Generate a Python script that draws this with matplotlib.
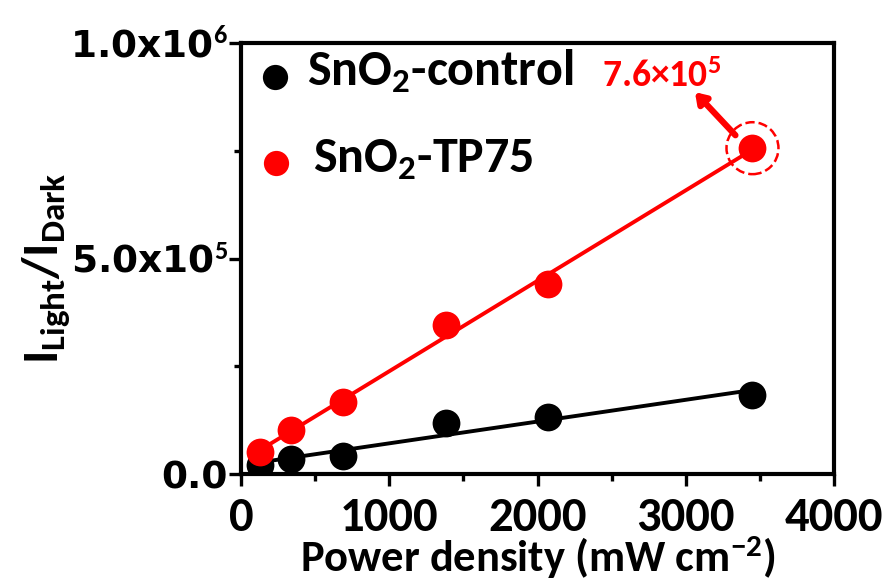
import numpy as np
import matplotlib
matplotlib.use('Agg')
import matplotlib.pyplot as plt
from matplotlib.ticker import MultipleLocator, FixedLocator

plt.rcParams['font.family'] = ['Carlito', 'DejaVu Sans']
plt.rcParams['font.weight'] = 'bold'
plt.rcParams['axes.labelweight'] = 'bold'
plt.rcParams['mathtext.fontset'] = 'custom'
plt.rcParams['mathtext.rm'] = 'Carlito:bold'
plt.rcParams['mathtext.bf'] = 'Carlito:bold'
plt.rcParams['mathtext.it'] = 'Carlito:bold'

# power density (mW cm^-2)
power = [130, 340, 690, 1380, 2070, 3450]
control = [21000, 35000, 42000, 118000, 132000, 183000]
tp75 = [51000, 102000, 167000, 346000, 441000, 756000]
peak_label = '7.6$\\times$10$^{5}$'

ytick_vals = [0, 5e5, 1e6]
ytick_labels = ['0.0', '5.0x10$^{5}$', '1.0x10$^{6}$']

fig = plt.figure(figsize=(8.92, 5.87), dpi=100)
ax = fig.add_axes([0.2702, 0.1925, 0.6648, 0.7342])

x = np.array(power)
for vals, col in [(control, 'black'), (tp75, '#ff0000')]:
    k, b = np.polyfit(x, vals, 1)
    xs = np.array([x[0], x[-1]])
    ax.plot(xs, k * xs + b, color=col, lw=2.8, zorder=2)
    ax.scatter(x, vals, s=400, color=col, zorder=3, linewidths=0)

# dashed ring around the highest point
ax.scatter([power[-1]], [tp75[-1]], s=1400, facecolors='none', edgecolors='#ff0000',
           linewidths=1.8, linestyles='--', zorder=4)
ax.annotate('', xy=(3062, 886000), xytext=(3335, 786000),
            arrowprops=dict(arrowstyle='-|>,head_width=0.4,head_length=0.6',
                            color='#ff0000', lw=4.5, shrinkA=0, shrinkB=0))
ax.text(2435, 898000, peak_label, color='#ff0000', fontsize=27,
        va='baseline', ha='left')

# legend drawn by hand
ax.scatter([229], [921000], s=330, color='black', linewidths=0, clip_on=False)
ax.text(445, 902600, 'SnO$_{2}$-control', fontsize=36, va='baseline', ha='left')
ax.scatter([236], [721600], s=330, color='#ff0000', linewidths=0, clip_on=False)
ax.text(486, 700700, 'SnO$_{2}$-TP75', fontsize=36, va='baseline', ha='left')

ax.set_xlim(0, 4000)
ax.set_ylim(0, 1e6)
ax.xaxis.set_major_locator(MultipleLocator(1000))
ax.xaxis.set_minor_locator(MultipleLocator(500))
ax.yaxis.set_major_locator(FixedLocator(ytick_vals))
ax.yaxis.set_minor_locator(FixedLocator([2.5e5, 7.5e5]))
ax.set_yticklabels(ytick_labels)

for sp in ax.spines.values():
    sp.set_linewidth(3)
ax.tick_params(which='major', direction='out', length=8.5, width=2.4, top=False, right=False)
ax.tick_params(which='minor', direction='out', length=5, width=2.4, top=False, right=False)
ax.tick_params(axis='x', labelsize=35, pad=8)
ax.tick_params(axis='y', labelsize=27, pad=1)
for lab in ax.get_yticklabels():
    lab.set_family(['DejaVu Sans'])
    lab.set_fontweight('bold')

ax.set_xlabel('Power density (mW cm$^{-2}$)', fontsize=32, labelpad=-3)
ax.set_ylabel('I$_{\\mathregular{Light}}$/I$_{\\mathregular{Dark}}$', fontsize=36)
ax.yaxis.set_label_coords(-0.285, 0.478)

fig.savefig('out.png', dpi=100, facecolor='white')
